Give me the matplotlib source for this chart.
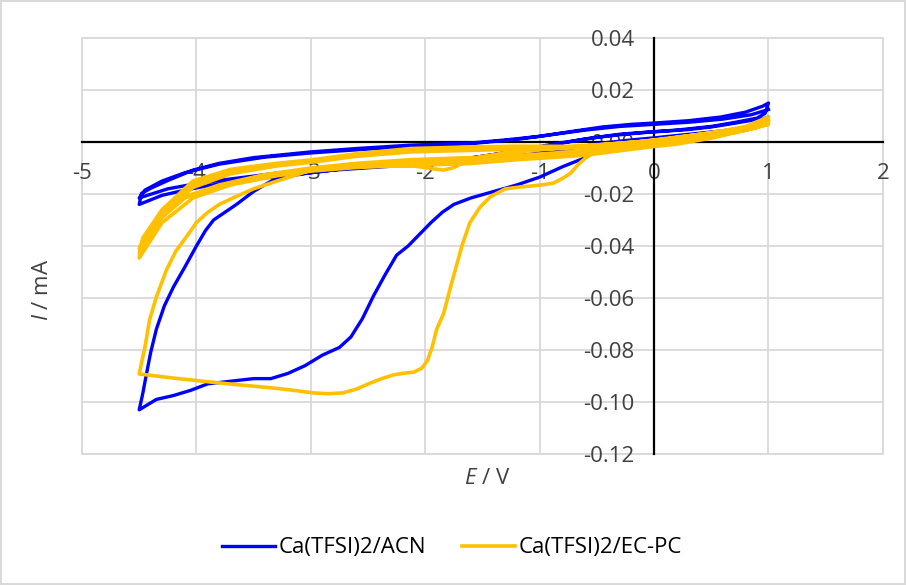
import numpy as np
import matplotlib
matplotlib.use('Agg')
import matplotlib.pyplot as plt
from matplotlib.patches import Rectangle

plt.rcParams['font.family'] = ['Open Sans', 'DejaVu Sans']
plt.rcParams['mathtext.fontset'] = 'custom'
plt.rcParams['mathtext.rm'] = 'Open Sans'
plt.rcParams['mathtext.it'] = 'Open Sans:italic'

# --- Ca(TFSI)2/ACN, E / V and I / mA, scan by scan ---
acn_c1_cat_E = [-0.45, -0.6, -0.8, -1.0, -1.2, -1.4, -1.6, -1.75, -1.85, -1.95, -2.05, -2.15, -2.25,
                -2.35, -2.45, -2.55, -2.65, -2.75, -2.9, -3.05, -3.2, -3.35, -3.5, -3.7, -3.9, -4.05,
                -4.2, -4.35, -4.5]
acn_c1_cat_I = [-0.002, -0.006, -0.0095, -0.0135, -0.0165, -0.019, -0.0215, -0.024, -0.027, -0.031,
                -0.0355, -0.040, -0.0435, -0.051, -0.059, -0.068, -0.075, -0.079, -0.082, -0.086,
                -0.089, -0.091, -0.091, -0.092, -0.093, -0.0955, -0.0975, -0.099, -0.103]
acn_c1_an_E = [-4.5, -4.47, -4.44, -4.4, -4.35, -4.28, -4.2, -4.1, -4.0, -3.92, -3.85, -3.75, -3.65,
               -3.5, -3.33, -3.15, -3.0, -2.7, -2.4, -2.0, -1.6, -1.3, -1.0, -0.7, -0.45, -0.2, 0.0,
               0.2, 0.43, 0.6, 0.81, 1.0]
acn_c1_an_I = [-0.103, -0.097, -0.090, -0.081, -0.072, -0.063, -0.0557, -0.048, -0.040, -0.034,
               -0.030, -0.027, -0.024, -0.019, -0.0146, -0.0128, -0.0118, -0.0102, -0.0094, -0.0088,
               -0.008, -0.006, -0.0042, -0.0022, -0.0004, 0.0008, 0.0016, 0.0025, 0.0035, 0.0043,
               0.0054, 0.0096]
acn_c2_cat_E = [1.0, 0.95, 0.87, 0.7, 0.5, 0.3, 0.1, -0.1, -0.3, -0.5, -0.8, -1.1, -1.4, -1.7, -2.0,
                -2.4, -2.8, -3.2, -3.6, -3.9, -4.1, -4.3, -4.5]
acn_c2_cat_I = [0.0096, 0.0088, 0.0085, 0.0072, 0.0058, 0.0048, 0.0042, 0.0036, 0.0028, 0.0018,
                -0.0002, -0.0025, -0.0048, -0.0068, -0.0085, -0.0096, -0.0108, -0.0128, -0.0148,
                -0.0168, -0.0185, -0.0205, -0.024]
acn_c2_an_E = [-4.5, -4.48, -4.4, -4.25, -4.03, -3.8, -3.5, -3.0, -2.6, -2.13, -1.61, -1.3, -1.0,
               -0.7, -0.45, -0.2, 0.0, 0.3, 0.58, 0.8, 0.95, 1.0]
acn_c2_an_I = [-0.024, -0.0198, -0.0178, -0.0148, -0.0108, -0.0082, -0.006, -0.0038, -0.0025,
               -0.0012, -0.0004, 0.0008, 0.0022, 0.0042, 0.0058, 0.0068, 0.0073, 0.0082, 0.0096,
               0.0115, 0.0138, 0.015]
acn_c3_cat_E = [1.0, 0.97, 0.9, 0.7, 0.5, 0.2, 0.0, -0.3, -0.6, -0.9, -1.2, -1.5, -1.8, -2.1, -2.5,
                -2.9, -3.3, -3.7, -4.0, -4.25, -4.5]
acn_c3_cat_I = [0.015, 0.011, 0.0092, 0.0075, 0.006, 0.0046, 0.004, 0.003, 0.0012, -0.0012, -0.0035,
                -0.0055, -0.0072, -0.0083, -0.009, -0.0102, -0.012, -0.0142, -0.016, -0.018, -0.0215]
acn_c3_an_E = [-4.5, -4.45, -4.3, -4.1, -3.8, -3.4, -3.0, -2.5, -2.0, -1.6, -1.2, -0.9, -0.6, -0.3,
               0.0, 0.3, 0.6, 0.85, 1.0]
acn_c3_an_I = [-0.0215, -0.0185, -0.015, -0.0118, -0.0085, -0.0058, -0.0042, -0.0027, -0.0014,
               -0.0006, 0.001, 0.0028, 0.0046, 0.006, 0.0068, 0.0076, 0.0088, 0.0105, 0.0125]

# --- Ca(TFSI)2/EC-PC ---
ecpc_c1_cat_E = [-0.45, -0.52, -0.59, -0.66, -0.73, -0.8, -0.88, -0.95, -1.05, -1.17, -1.3, -1.43,
                 -1.52, -1.61, -1.68, -1.73, -1.78, -1.84, -1.9, -1.94, -1.98, -2.03, -2.1, -2.2,
                 -2.28, -2.38, -2.48, -2.6, -2.72, -2.85, -2.98, -3.15, -3.33, -3.6, -3.88, -4.2, -4.5]
ecpc_c1_cat_I = [-0.002, -0.004, -0.0058, -0.0085, -0.012, -0.014, -0.0158, -0.0163, -0.0168,
                 -0.0173, -0.018, -0.021, -0.025, -0.031, -0.040, -0.048, -0.056, -0.066, -0.072,
                 -0.079, -0.084, -0.087, -0.0885, -0.089, -0.0896, -0.091, -0.0927, -0.095, -0.0965,
                 -0.0968, -0.0965, -0.0955, -0.0946, -0.0935, -0.0923, -0.0908, -0.0892]
ecpc_c1_an_E = [-4.5, -4.48, -4.45, -4.41, -4.35, -4.26, -4.18, -4.08, -4.0, -3.9, -3.8, -3.68, -3.5,
                -3.33, -3.15, -3.0, -2.7, -2.4, -2.1, -1.95, -1.84, -1.75, -1.65, -1.5, -1.3, -1.0,
                -0.7, -0.4, -0.1, 0.2, 0.5, 0.8, 1.0]
ecpc_c1_an_I = [-0.0892, -0.085, -0.079, -0.0685, -0.0596, -0.049, -0.042, -0.036, -0.031, -0.027,
                -0.024, -0.0215, -0.018, -0.0155, -0.013, -0.0108, -0.0095, -0.009, -0.0092, -0.0102,
                -0.0108, -0.0098, -0.0075, -0.0055, -0.0042, -0.003, -0.0018, -0.0008, 0.0003,
                0.0015, 0.003, 0.0048, 0.0068]
ecpc_c2_cat_E = [1.0, 0.8, 0.5, 0.2, 0.0, -0.2, -0.59, -0.9, -1.2, -1.61, -2.13, -2.6, -3.0, -3.3,
                 -3.7, -4.03, -4.3, -4.5]
ecpc_c2_cat_I = [0.0068, 0.0045, 0.0015, -0.0008, -0.0017, -0.0028, -0.005, -0.006, -0.0068,
                 -0.0083, -0.009, -0.0098, -0.0112, -0.013, -0.0165, -0.0215, -0.031, -0.0446]
ecpc_c2_an_E = [-4.5, -4.47, -4.3, -4.03, -3.7, -3.3, -3.0, -2.6, -2.13, -1.61, -1.2, -0.59, -0.2,
                0.0, 0.5, 0.8, 1.0]
ecpc_c2_an_I = [-0.0446, -0.037, -0.026, -0.015, -0.0105, -0.0082, -0.0069, -0.0045, -0.0025,
                -0.0019, -0.0016, -0.0017, -0.0003, 0.0008, 0.0035, 0.006, 0.0096]
ecpc_c3_cat_E = [1.0, 0.9, 0.6, 0.3, 0.0, -0.4, -0.8, -1.2, -1.61, -2.13, -2.6, -3.0, -3.4, -3.8,
                 -4.1, -4.3, -4.5]
ecpc_c3_cat_I = [0.0096, 0.0065, 0.0035, 0.001, -0.0008, -0.0025, -0.004, -0.0052, -0.006, -0.0068,
                 -0.0082, -0.010, -0.0125, -0.0165, -0.021, -0.027, -0.041]
ecpc_c3_an_E = [-4.5, -4.45, -4.3, -4.03, -3.7, -3.3, -3.0, -2.6, -2.13, -1.61, -1.2, -0.8, -0.4,
                0.0, 0.4, 0.8, 1.0]
ecpc_c3_an_I = [-0.041, -0.036, -0.0275, -0.0175, -0.0122, -0.0092, -0.0078, -0.0055, -0.0038,
                -0.0032, -0.0028, -0.0025, -0.0012, 0.0002, 0.0025, 0.005, 0.0075]
ecpc_c4_cat_E = [1.0, 0.9, 0.6, 0.3, 0.0, -0.4, -0.8, -1.2, -1.61, -2.13, -2.6, -3.0, -3.4, -3.8,
                 -4.1, -4.3, -4.5]
ecpc_c4_cat_I = [0.0075, 0.0055, 0.0028, 0.0004, -0.0012, -0.0032, -0.0048, -0.006, -0.007, -0.0078,
                 -0.009, -0.0105, -0.0128, -0.017, -0.0215, -0.029, -0.043]
ecpc_c4_an_E = [-4.5, -4.46, -4.3, -4.03, -3.7, -3.3, -3.0, -2.6, -2.13, -1.61, -1.2, -0.8, -0.4,
                0.0, 0.4, 0.8, 1.0]
ecpc_c4_an_I = [-0.043, -0.0375, -0.0265, -0.0162, -0.0112, -0.0086, -0.0073, -0.005, -0.003,
                -0.0025, -0.0022, -0.002, -0.0008, 0.0005, 0.003, 0.0055, 0.0085]

acn_E = np.concatenate([acn_c1_cat_E, acn_c1_an_E, acn_c2_cat_E, acn_c2_an_E,
                        acn_c3_cat_E, acn_c3_an_E])
acn_I = np.concatenate([acn_c1_cat_I, acn_c1_an_I, acn_c2_cat_I, acn_c2_an_I,
                        acn_c3_cat_I, acn_c3_an_I])
ecpc_E = np.concatenate([ecpc_c1_cat_E, ecpc_c1_an_E, ecpc_c2_cat_E, ecpc_c2_an_E,
                         ecpc_c3_cat_E, ecpc_c3_an_E, ecpc_c4_cat_E, ecpc_c4_an_E])
ecpc_I = np.concatenate([ecpc_c1_cat_I, ecpc_c1_an_I, ecpc_c2_cat_I, ecpc_c2_an_I,
                         ecpc_c3_cat_I, ecpc_c3_an_I, ecpc_c4_cat_I, ecpc_c4_an_I])

x_ticks = [-5, -4, -3, -2, -1, 0, 1, 2]
y_ticks = [-0.12, -0.10, -0.08, -0.06, -0.04, -0.02, 0.00, 0.02, 0.04]

fig = plt.figure(figsize=(9.06, 5.85), dpi=100)
fig.patch.set_edgecolor('#D9D9D9')
fig.patch.set_linewidth(1.5)
ax = fig.add_axes([0.0905, 0.2239, 0.884, 0.7111])

ax.plot(acn_E, acn_I, color='#0000FF', lw=2.4, label='Ca(TFSI)2/ACN', zorder=3,
        solid_joinstyle='round')
ax.plot(ecpc_E, ecpc_I, color='#FFC000', lw=2.6, label='Ca(TFSI)2/EC-PC', zorder=3,
        solid_joinstyle='round')

ax.set_xlim(-5, 2)
ax.set_ylim(-0.12, 0.04)
ax.set_xticks(x_ticks)
ax.set_yticks(y_ticks)
ax.set_xticklabels([str(v) for v in x_ticks])
ax.set_yticklabels([f'{v:.2f}' for v in y_ticks])
ax.grid(True, color='#D9D9D9', lw=1.3)
ax.set_axisbelow(True)

ax.spines['left'].set_position(('data', 0))
ax.spines['bottom'].set_position(('data', 0))
for s in ['left', 'bottom']:
    ax.spines[s].set_color('black')
    ax.spines[s].set_linewidth(1.6)
for s in ['top', 'right']:
    ax.spines[s].set_visible(False)
ax.add_patch(Rectangle((0, 0), 1, 1, transform=ax.transAxes, fill=False,
                       ec='#D9D9D9', lw=1.3, zorder=0.4, clip_on=False))
ax.tick_params(axis='both', length=0, labelsize=16, labelcolor='#404040')
ax.tick_params(axis='x', pad=15)
ax.tick_params(axis='y', pad=14)

ax.set_xlabel(r'$\mathit{E}$ / V', fontsize=16, color='#404040')
ax.set_ylabel(r'$\mathit{I}$ / mA', fontsize=16, color='#404040')
ax.xaxis.set_label_coords(0.506, -0.034)
ax.yaxis.set_label_coords(-0.036, 0.394)

fig.legend(loc='center', bbox_to_anchor=(452 / 906, 1 - 548 / 585), ncol=2, frameon=False,
           fontsize=16, handlelength=2.4, handletextpad=0.15, columnspacing=1.6)

fig.savefig('out.png', dpi=100, edgecolor=fig.get_edgecolor())
